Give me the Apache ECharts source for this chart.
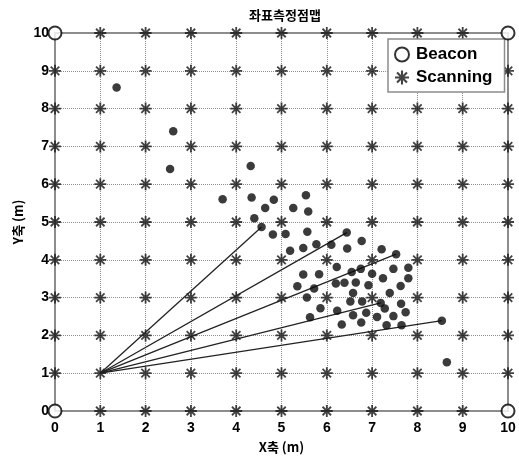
<!DOCTYPE html>
<html>
<head>
<meta charset="utf-8">
<script src="https://cdn.jsdelivr.net/npm/echarts@6/dist/echarts.min.js"></script>
<style>
  html, body { margin: 0; padding: 0; background: #fff; }
  #chart { width: 519px; height: 459px; }
</style>
</head>
<body>
<div id="chart"></div>
<script>
// Axis ticks (metres)
const xTicks = [0, 1, 2, 3, 4, 5, 6, 7, 8, 9, 10];
const yTicks = [0, 1, 2, 3, 4, 5, 6, 7, 8, 9, 10];

// Beacon positions (room corners)
const beaconX = [0, 0, 10, 10];
const beaconY = [0, 10, 0, 10];

// Scanning positions: every grid crossing of the tick values except the beacon corners
const scanX = xTicks;
const scanY = yTicks;

// Measured positions
const measuredX = [1.36, 2.61, 2.54, 4.32, 3.70, 4.34, 4.83, 5.54, 4.64, 5.26, 5.59, 4.40,
  4.56, 4.81, 5.09, 5.57, 6.44, 6.77, 5.19, 5.48, 5.77, 6.10, 6.45, 7.21, 7.53,
  6.22, 6.55, 6.75, 7.00, 7.47, 7.80, 5.48, 5.83, 7.24, 7.80,
  5.35, 5.72, 6.20, 6.39, 6.64, 6.92, 7.63, 5.56, 6.58, 7.39,
  6.52, 6.78, 7.19, 7.64, 5.86, 6.23, 6.87, 7.28, 7.74,
  5.63, 6.58, 7.11, 7.47, 6.33, 6.76, 7.32, 7.65, 8.54, 8.65];
const measuredY = [8.56, 7.40, 6.40, 6.48, 5.60, 5.65, 5.59, 5.71, 5.37, 5.37, 5.28, 5.10,
  4.87, 4.67, 4.68, 4.74, 4.72, 4.50, 4.24, 4.31, 4.41, 4.40, 4.30, 4.28, 4.15,
  3.81, 3.68, 3.76, 3.63, 3.76, 3.79, 3.61, 3.62, 3.51, 3.51,
  3.30, 3.24, 3.37, 3.39, 3.40, 3.33, 3.31, 3.00, 3.12, 3.12,
  2.90, 2.90, 2.86, 2.84, 2.72, 2.65, 2.60, 2.71, 2.61,
  2.48, 2.53, 2.49, 2.51, 2.29, 2.34, 2.27, 2.27, 2.39, 1.29];

// Rays from the start point to selected measured positions
const rayStart = [1, 1];
const rayEndX = [4.56, 6.44, 7.53, 7.19, 8.54];
const rayEndY = [4.87, 4.72, 4.15, 2.86, 2.39];

const beaconData = beaconX.map((x, i) => [x, beaconY[i]]);
const isBeacon = (x, y) => beaconData.some(p => p[0] === x && p[1] === y);
const scanData = [];
scanX.forEach(x => scanY.forEach(y => { if (!isBeacon(x, y)) scanData.push([x, y]); }));
const measuredData = measuredX.map((x, i) => [x, measuredY[i]]);

// Asterisk marker: four crossing bars around a solid core
const asterisk = 'path://M-1.5,-10h3v20h-3z M-10,-1.5h20v3h-20z ' +
  'M-6.01,-8.13L8.13,6.01L6.01,8.13L-8.13,-6.01z ' +
  'M6.01,-8.13L8.13,-6.01L-6.01,8.13L-8.13,6.01z ' +
  'M-3.5,-3.5h7v7h-7z';

const labelFont = { color: '#000', fontSize: 14, fontWeight: 'bold', fontFamily: 'Liberation Sans, Arial, sans-serif' };
const gridLine = { show: true, lineStyle: { color: '#8f8f8f', type: 'dotted', width: 1 } };

const rays = rayEndX.map((x, i) => ({
  type: 'line',
  data: [rayStart, [x, rayEndY[i]]],
  symbol: 'none',
  silent: true,
  lineStyle: { color: '#222', width: 1.3 },
  z: 3
}));

const chart = echarts.init(document.getElementById('chart'), null, { renderer: 'canvas' });
chart.setOption({
  animation: false,
  backgroundColor: '#fff',
  title: {
    text: '좌표측정점맵',
    left: 280,
    top: 4,
    textAlign: 'center',
    textStyle: { fontSize: 13, fontWeight: 'bold', color: '#000', fontFamily: 'Noto Sans CJK KR' }
  },
  grid: {
    left: 55, right: 11, top: 33, bottom: 41,
    show: true, borderColor: '#8c8c8c', borderWidth: 2, backgroundColor: '#fff'
  },
  legend: {
    orient: 'vertical',
    left: 388, top: 39,
    padding: [7, 12, 6, 6],
    itemGap: 6,
    itemWidth: 14, itemHeight: 14,
    backgroundColor: '#fff',
    borderColor: '#8c8c8c', borderWidth: 1.5,
    textStyle: { fontSize: 17, fontWeight: 'bold', color: '#000', fontFamily: 'Liberation Sans, Arial, sans-serif', padding: [0, 0, 0, 2] },
    data: ['Beacon', 'Scanning']
  },
  xAxis: {
    type: 'value', min: 0, max: 10, interval: 1,
    name: 'X축 (m)', nameLocation: 'middle', nameGap: 30, nameMoveOverlap: false,
    nameTextStyle: { fontSize: 13, fontWeight: 'bold', color: '#000', fontFamily: 'Noto Sans CJK KR' },
    axisLine: { show: false }, axisTick: { show: false },
    axisLabel: Object.assign({ margin: 10 }, labelFont),
    splitLine: gridLine
  },
  yAxis: {
    type: 'value', min: 0, max: 10, interval: 1,
    name: 'Y축 (m)', nameLocation: 'middle', nameGap: 30, nameRotate: 90, nameMoveOverlap: false,
    nameTextStyle: { fontSize: 13, fontWeight: 'bold', color: '#000', fontFamily: 'Noto Sans CJK KR' },
    axisLine: { show: false }, axisTick: { show: false },
    axisLabel: Object.assign({ margin: 6 }, labelFont),
    splitLine: gridLine
  },
  series: [
    {
      name: 'Scanning', type: 'scatter', data: scanData, clip: false,
      symbol: asterisk, symbolSize: 12,
      itemStyle: { color: '#141414' }, z: 2
    },
    {
      name: 'Beacon', type: 'scatter', data: beaconData, clip: false,
      symbol: 'emptyCircle', symbolSize: 13,
      itemStyle: { color: '#000', borderColor: '#000', borderWidth: 1.6 }, z: 4
    },
    ...rays,
    {
      name: 'Measured', type: 'scatter', data: measuredData, clip: false,
      symbol: 'circle', symbolSize: 8.5,
      itemStyle: { color: '#0a0a0a' }, z: 5
    }
  ]
});
</script>
</body>
</html>
